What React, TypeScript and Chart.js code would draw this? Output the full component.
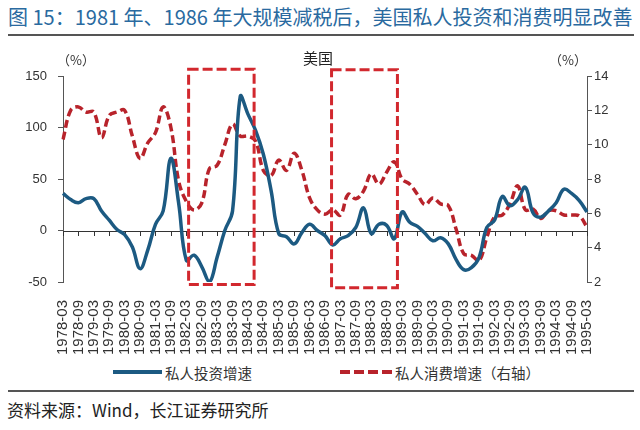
import React, { useEffect, useRef } from "react";
import { Chart, registerables } from "chart.js";

Chart.register(...registerables);

// Quarterly periods 1978Q1 .. 1995Q1 (labels shown every half year)
const years = [1978,1979,1980,1981,1982,1983,1984,1985,1986,1987,1988,1989,1990,1991,1992,1993,1994,1995];
const months = ["03", "06", "09", "12"];
const quarterLabels: string[] = [];
years.forEach((y) => months.forEach((m) => quarterLabels.push(`${y}-${m}`)));
const categories = quarterLabels.slice(0, 69);

// 私人投资增速 (%), left axis
const investment = [
  36, 30, 27, 31, 31, 19, 10, 1, -4, -16,
  -37, -19, 6, 19, 70, 27, -29, -24, -35, -50,
  -26, 0, 19, 130, 113, 97, 74, 39, -3, -6,
  -13, -2, 6, 0, -5, -14, -8, -5, 3, 22,
  -3, 6, 5, -8, 18, 8, 4, -3, -10, -7,
  -13, -28, -38, -36, -26, 3, 10, 33, 24, 30,
  42, 17, 13, 19, 27, 40, 36, 29, 18,
];

// 私人消费增速 (%), right axis
const consumption = [
  10.3, 12.0, 12.2, 11.9, 11.9, 10.4, 11.7, 11.9, 12.0, 10.5,
  9.2, 10.1, 10.7, 12.2, 11.0, 7.9, 6.7, 6.2, 6.6, 8.6,
  8.8, 10.0, 11.2, 10.5, 10.5, 10.2, 8.5, 8.2, 9.1, 8.5,
  9.5, 8.5, 6.9, 6.2, 5.95, 6.2, 5.9, 7.1, 6.85, 7.3,
  8.3, 7.7, 8.4, 9.0, 8.0, 7.7, 7.1, 6.5, 6.9, 6.55,
  6.45, 5.1, 3.65, 3.55, 3.25, 4.6, 5.8, 5.9, 6.55, 7.6,
  6.2, 6.25, 5.7, 6.15, 6.15, 5.9, 5.9, 5.85, 5.2,
];

// Highlight boxes (tax-cut periods), in data units: category index & left-axis value
const boxStart = [16.3, 34.85];
const boxEnd = [24.8, 43.4];
const boxTop = [156.5, 156];
const boxBottom = [-52.5, -55.5];

const leftTicks = { min: -50, max: 150, step: 50 };
const rightTicks = { min: 2, max: 14, step: 2 };

const BLUE = "#1c5a82";
const RED = "#b8232b";
const BOX_RED = "#d2282e";
const AXIS = "#555";
const TEXT = "#333";
const NUM_FONT = "'Liberation Sans', Arial, sans-serif";
const CJK_FONT = "'Noto Sans CJK SC', 'Noto Sans', sans-serif";

const refPlugin = {
  id: "refPlugin",
  beforeDatasetsDraw(chart: any) {
    const { ctx, chartArea, scales } = chart;
    const y0 = scales.y.getPixelForValue(0);
    ctx.save();
    ctx.strokeStyle = "#333";
    ctx.lineWidth = 1;
    ctx.beginPath();
    ctx.moveTo(chartArea.left, Math.round(y0) + 0.5);
    ctx.lineTo(chartArea.right, Math.round(y0) + 0.5);
    for (let i = 0; i < categories.length; i += 2) {
      const x = Math.round(scales.x.getPixelForValue(i)) + 0.5;
      ctx.moveTo(x, Math.round(y0));
      ctx.lineTo(x, Math.round(y0) + 5);
    }
    ctx.stroke();
    ctx.restore();
  },
  afterDatasetsDraw(chart: any) {
    const { ctx, scales } = chart;
    ctx.save();
    ctx.strokeStyle = BOX_RED;
    ctx.lineWidth = 3;
    ctx.setLineDash([10, 4]);
    for (let b = 0; b < boxStart.length; b++) {
      const x0 = scales.x.getPixelForValue(boxStart[b]);
      const x1 = scales.x.getPixelForValue(boxEnd[b]);
      const yt = scales.y.getPixelForValue(boxTop[b]);
      const yb = scales.y.getPixelForValue(boxBottom[b]);
      ctx.strokeRect(x0, yt, x1 - x0, yb - yt);
    }
    ctx.restore();
  },
};

export default function App() {
  const canvasRef = useRef<HTMLCanvasElement | null>(null);

  useEffect(() => {
    if (!canvasRef.current) return;
    const chart = new Chart(canvasRef.current, {
      type: "line",
      data: {
        labels: categories,
        datasets: [
          {
            label: "私人投资增速",
            data: investment,
            yAxisID: "y",
            borderColor: BLUE,
            backgroundColor: BLUE,
            borderWidth: 3.5,
            pointRadius: 0,
            tension: 0.4,
            fill: false,
            order: 0,
          },
          {
            label: "私人消费增速（右轴）",
            data: consumption,
            yAxisID: "y1",
            borderColor: RED,
            backgroundColor: RED,
            borderWidth: 3.5,
            borderDash: [8, 4],
            pointRadius: 0,
            tension: 0.4,
            fill: false,
            order: 1,
          },
        ],
      },
      options: {
        animation: false,
        responsive: false,
        maintainAspectRatio: false,
        layout: { padding: { top: 36, left: 0, right: 0, bottom: 0 } },
        plugins: { legend: { display: false }, tooltip: { enabled: false } },
        scales: {
          x: {
            type: "category",
            offset: false,
            grid: { display: false },
            border: { display: false },
            ticks: {
              autoSkip: false,
              minRotation: 90,
              maxRotation: 90,
              padding: 10,
              color: TEXT,
              font: { family: NUM_FONT, size: 15 },
              callback: (_v: any, i: number) => (i % 2 === 0 ? categories[i] : ""),
            },
            afterFit: (s: any) => {
              s.height = 78;
            },
          },
          y: {
            position: "left",
            min: leftTicks.min,
            max: leftTicks.max,
            ticks: { stepSize: leftTicks.step, padding: 11, color: TEXT, font: { family: NUM_FONT, size: 13 } },
            grid: { drawOnChartArea: false, drawTicks: true, tickLength: 5, color: AXIS },
            border: { display: true, color: AXIS, width: 1 },
            afterFit: (s: any) => {
              s.width = 63;
            },
          },
          y1: {
            position: "right",
            min: rightTicks.min,
            max: rightTicks.max,
            ticks: { stepSize: rightTicks.step, padding: 2, color: TEXT, font: { family: NUM_FONT, size: 13 } },
            grid: { drawOnChartArea: false, drawTicks: true, tickLength: 5, color: AXIS },
            border: { display: true, color: AXIS, width: 1 },
            afterFit: (s: any) => {
              s.width = 53;
            },
          },
        },
      } as any,
      plugins: [refPlugin],
    });
    return () => chart.destroy();
  }, []);

  const abs = (style: React.CSSProperties): React.CSSProperties => ({ position: "absolute", ...style });

  return (
    <div style={{ position: "fixed", left: 0, top: 0, width: 640, height: 430, background: "#fff", overflow: "hidden" }}>
      <div style={abs({ left: 8, top: 4, fontFamily: CJK_FONT, fontSize: 20, lineHeight: "26px", color: "#2a6aa0", whiteSpace: "nowrap" })}>
        图 15：1981 年、1986 年大规模减税后，美国私人投资和消费明显改善
      </div>
      <div style={abs({ left: 8, top: 34, width: 626, height: 2, background: "#555" })} />

      <div style={abs({ left: 0, top: 40, width: 640, height: 320 })}>
        <canvas ref={canvasRef} width={640} height={320} style={{ width: 640, height: 320, display: "block" }} />
      </div>

      <div style={abs({ left: 51, top: 50, width: 50, textAlign: "center", fontFamily: CJK_FONT, fontSize: 13, lineHeight: "20px", color: TEXT })}>（%）</div>
      <div style={abs({ left: 288, top: 48, width: 60, textAlign: "center", fontFamily: CJK_FONT, fontSize: 15, lineHeight: "20px", color: "#222" })}>美国</div>
      <div style={abs({ left: 543, top: 50, width: 50, textAlign: "center", fontFamily: CJK_FONT, fontSize: 13, lineHeight: "20px", color: TEXT })}>（%）</div>

      <div style={abs({ left: 113, top: 370, width: 49, height: 4, background: BLUE })} />
      <div style={abs({ left: 165, top: 362, fontFamily: CJK_FONT, fontSize: 14.5, lineHeight: "22px", color: TEXT, whiteSpace: "nowrap" })}>私人投资增速</div>
      <svg style={abs({ left: 340, top: 368, width: 54, height: 8 })} width={54} height={8}>
        <line x1={0} y1={4} x2={54} y2={4} stroke={RED} strokeWidth={4} strokeDasharray="10,4" />
      </svg>
      <div style={abs({ left: 395, top: 362, fontFamily: CJK_FONT, fontSize: 14.5, lineHeight: "22px", color: TEXT, whiteSpace: "nowrap" })}>私人消费增速（右轴）</div>

      <div style={abs({ left: 8, top: 390, width: 626, height: 2, background: "#555" })} />
      <div style={abs({ left: 7, top: 398, fontFamily: CJK_FONT, fontSize: 17, lineHeight: "24px", color: "#222", whiteSpace: "nowrap" })}>
        资料来源：Wind，长江证券研究所
      </div>
    </div>
  );
}
